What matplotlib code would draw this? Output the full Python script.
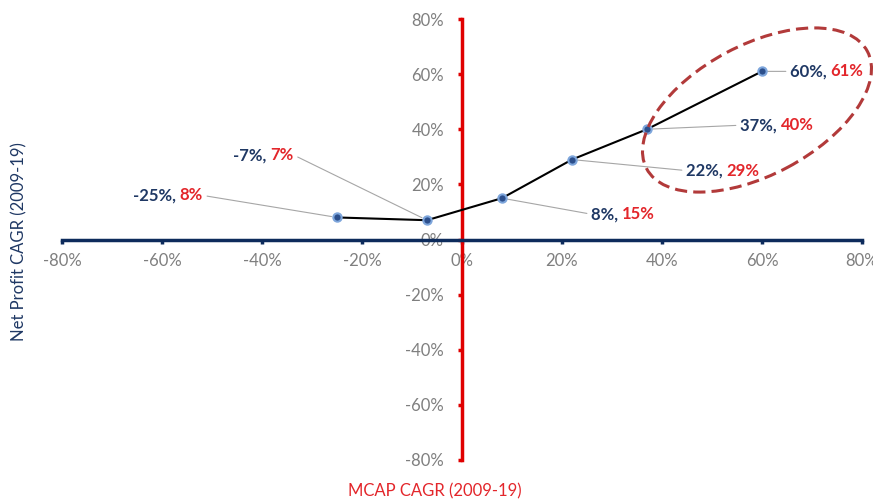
import matplotlib
matplotlib.use("Agg")
import matplotlib.pyplot as plt
from matplotlib.patches import Ellipse
from matplotlib.ticker import PercentFormatter

plt.rcParams['font.family'] = ['Lato', 'DejaVu Sans']
plt.rcParams['axes.unicode_minus'] = False

# datos (en %)
mcap_cagr = [-25, -7, 8, 22, 37, 60]
profit_cagr = [8, 7, 15, 29, 40, 61]
# desplazamiento de cada etiqueta respecto al punto (pixeles)
label_dx = [-134, -133, 89, 114, 93, 28]
label_dy = [22, 65, -16, -11, 4, 0]

navy = '#1f3864'
red = '#e3262b'
gris = '#7f7f7f'

fig = plt.figure(figsize=(8.73, 5), dpi=100)
ax = fig.add_axes([0.071, 0.08, 0.9164, 0.882])

x = [v / 100 for v in mcap_cagr]
y = [v / 100 for v in profit_cagr]
ax.plot(x, y, color='black', lw=1.5, zorder=3)
ax.plot(x, y, ls='none', marker='o', ms=6, mfc='#2c4f8c', mec='#7ea6dc',
        mew=1.5, zorder=4)

ax.set_xlim(-0.8, 0.8)
ax.set_ylim(-0.8, 0.8)
ax.set_xticks([i / 10 for i in range(-8, 9, 2)])
ax.set_yticks([i / 10 for i in range(-8, 9, 2)])
ax.xaxis.set_major_formatter(PercentFormatter(1.0, decimals=0))
ax.yaxis.set_major_formatter(PercentFormatter(1.0, decimals=0))

for s in ['top', 'right']:
    ax.spines[s].set_visible(False)
ax.spines['left'].set_position(('data', 0))
ax.spines['bottom'].set_position(('data', 0))
ax.spines['left'].set_color('#e00000')
ax.spines['left'].set_linewidth(2.5)
ax.spines['bottom'].set_color('#0d2b5c')
ax.spines['bottom'].set_linewidth(2.5)
ax.tick_params(axis='x', colors='#0d2b5c', length=3, width=2.5,
               labelcolor=gris, labelsize=12, pad=7)
ax.tick_params(axis='y', colors='#e00000', length=3, width=2.5,
               labelcolor=gris, labelsize=12, pad=10)

# etiquetas de dos colores con linea guia
for xi, yi, px, py, dx, dy in zip(x, y, mcap_cagr, profit_cagr, label_dx, label_dy):
    if dx < 0:
        # texto a la izquierda: la linea sale del final de la parte roja
        t = ax.annotate(str(py) + '%', xy=(xi, yi), xytext=(dx, dy),
                        textcoords='offset pixels', ha='right', va='center',
                        color=red, fontsize=12, fontweight='bold')
        ax.annotate(str(px) + '%, ', xy=(0, 0.5), xycoords=t, ha='right',
                    va='center', color=navy, fontsize=12, fontweight='bold')
        rel = (1, 0.5)
    else:
        t = ax.annotate(str(px) + '%, ', xy=(xi, yi), xytext=(dx, dy),
                        textcoords='offset pixels', ha='left', va='center',
                        color=navy, fontsize=12, fontweight='bold')
        ax.annotate(str(py) + '%', xy=(1, 0.5), xycoords=t, ha='left',
                    va='center', color=red, fontsize=12, fontweight='bold')
        rel = (0, 0.5)
    ax.annotate('', xy=(xi, yi), xytext=rel, textcoords=t,
                arrowprops=dict(arrowstyle='-', color='#a6a6a6', lw=0.8,
                                shrinkA=3, shrinkB=4), zorder=2)

# elipse punteada alrededor de los puntos altos
elipse = Ellipse((7.57, 3.90), 2.5, 1.3, angle=28, transform=fig.dpi_scale_trans,
                 fill=False, ec='#b23a3a', lw=2.2, ls=(0, (4, 2)), clip_on=False,
                 zorder=5)
fig.add_artist(elipse)

fig.text(0.022, 0.516, 'Net Profit CAGR (2009-19)', rotation=90, ha='center',
         va='center', color=navy, fontsize=12)
fig.text(0.498, 0.018, 'MCAP CAGR (2009-19)', ha='center', va='center',
         color='#e3262b', fontsize=12)

fig.savefig('out.png', dpi=100)
